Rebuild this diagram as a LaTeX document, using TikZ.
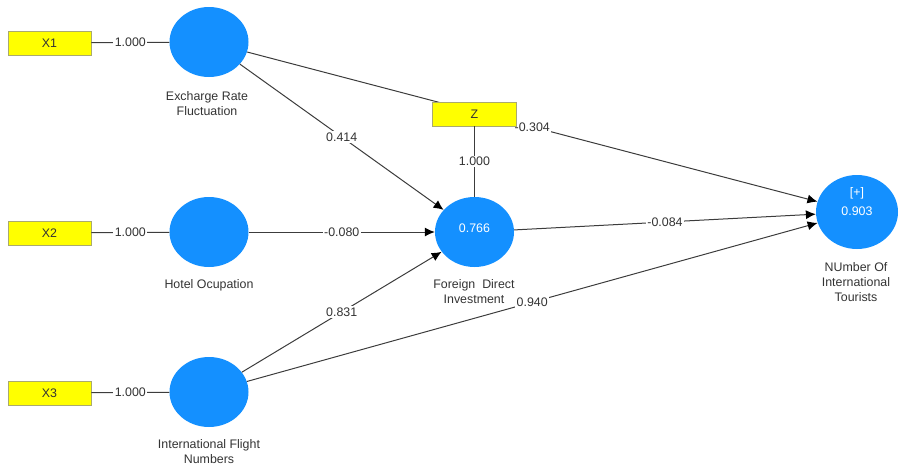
\documentclass[tikz,border=0pt]{standalone}
\usepackage{fontspec}
\setmainfont{Liberation Sans}
\usetikzlibrary{arrows.meta,shapes.geometric,backgrounds}
\definecolor{pblue}{RGB}{20,144,255}
\definecolor{pyellow}{RGB}{255,255,0}
\definecolor{pborder}{RGB}{170,170,110}
\definecolor{pline}{RGB}{60,60,60}
\definecolor{ptext}{RGB}{51,51,51}
\begin{document}
\begin{tikzpicture}[x=1pt,y=-1pt,
  font=\fontsize{12.4}{15}\selectfont,
  indbox/.style={draw=pborder, fill=pyellow, minimum width=83pt, minimum height=24pt, inner sep=0pt, line width=0.8pt, text=ptext},
  lvar/.style={ellipse, fill=pblue, minimum width=79pt, minimum height=70pt, inner sep=0pt, text=white},
  captext/.style={align=center, text=ptext},
  conn/.style={draw=pline, line width=1pt},
  arrconn/.style={conn, -{Latex[length=10pt,width=9pt,color=black]}},
  wlabel/.style={fill=white, inner sep=1.5pt, text=ptext, midway}]
\useasboundingbox (0,0) rectangle (899,469);

% indicators
\node[indbox] (x1) at (49.5,43) {X1};
\node[indbox] (x2) at (49.5,233) {X2};
\node[indbox] (x3) at (49.5,393) {X3};

% latent variables
\node[lvar] (erf) at (209,42) {};
\node[lvar] (ho) at (209,232) {};
\node[lvar] (ifn) at (209,392) {};
\node[lvar] (fdi) at (474.5,232) {};
\node[text=white] (fdiv) at (474.5,228) {0.766};
\node[lvar, minimum width=82pt, minimum height=74pt] (nit) at (857,212) {};
\node[text=white, align=center, font=\fontsize{12.4}{19}\selectfont] (nitv) at (857,202) {[+]\\0.903};

% moderator
\node[indbox, minimum width=84pt] (z) at (474.5,114) {Z};

% captions
\node[captext] (erfc) at (207,103.5) {Excharge Rate\\Fluctuation};
\node[captext] (hoc) at (209,285) {Hotel Ocupation};
\node[captext] (ifnc) at (209,452) {International Flight\\Numbers};
\node[captext] (fdic) at (474,292) {Foreign\ \ Direct\\Investment};
\node[captext] (nitc) at (856,282.5) {NUmber Of\\International\\Tourists};

% connectors
\begin{pgfonlayer}{background}
\draw[arrconn] (erf) -- node[wlabel]{-0.304} (nit);
\end{pgfonlayer}
\draw[conn] (x1) -- node[wlabel]{1.000} (erf);
\draw[conn] (x2) -- node[wlabel]{1.000} (ho);
\draw[conn] (x3) -- node[wlabel]{1.000} (ifn);
\draw[conn] (z) -- node[wlabel]{1.000} (fdi);
\draw[arrconn] (erf) -- node[wlabel]{0.414} (fdi);
\draw[arrconn] (ho) -- node[wlabel]{-0.080} (fdi);
\draw[arrconn] (ifn) -- node[wlabel]{0.831} (fdi);
\draw[arrconn] (ifn) -- node[wlabel]{0.940} (nit);
\draw[arrconn] (fdi) -- node[wlabel]{-0.084} (nit);
\end{tikzpicture}
\end{document}
